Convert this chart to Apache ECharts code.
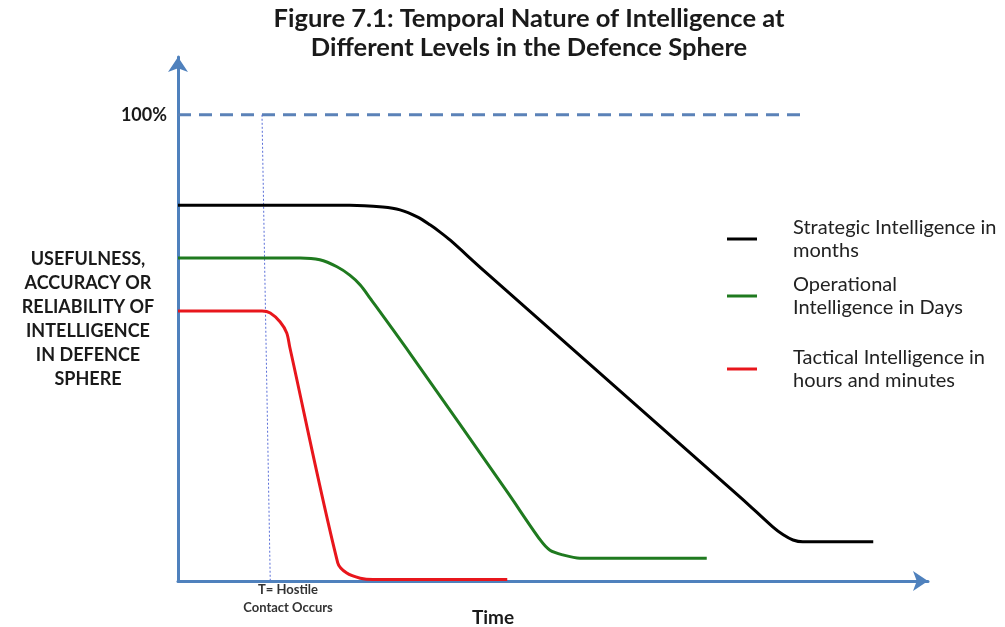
<!DOCTYPE html>
<html>
<head>
<meta charset="utf-8">
<script src="https://cdn.jsdelivr.net/npm/echarts@6/dist/echarts.min.js"></script>
<style>
  html, body { margin: 0; padding: 0; background: #ffffff; }
  #chart { width: 1005px; height: 627px; }
</style>
</head>
<body>
<div id="chart"></div>
<script>
// Usefulness (% of ideal) against elapsed time, one decay profile per level
const strategicCurve   = [[0, 80.6], [22.9, 80.6], [27.3, 80.2], [29.6, 79.6], [31.9, 78.1], [33.6, 76.4], [34.9, 74.9], [36.3, 73.1], [40.7, 66.7], [75.1, 17.8], [79.3, 11.6], [80.7, 9.9], [82.0, 8.8], [83.3, 8.4], [92.7, 8.4]];
const operationalCurve = [[0, 69.3], [16.3, 69.3], [18.9, 68.9], [21.2, 67.4], [22.9, 65.6], [24.3, 63.5], [25.6, 60.7], [30.9, 48.9], [43.9, 19.1], [48.3, 8.8], [49.6, 6.6], [51.3, 5.6], [53.6, 4.9], [70.5, 4.9]];
const tacticalCurve    = [[0, 57.9], [11.2, 57.9], [12.3, 57.5], [13.6, 55.6], [14.5, 53.2], [14.9, 50.2], [21.3, 3.9], [22.5, 1.7], [24.3, 0.6], [26.0, 0.3], [43.9, 0.3]];

// Full (100%) reference level and the moment hostile contact occurs
const fullLevel   = [[0, 100], [84.0, 100]];
const contactLine = [[11.2, 100], [12.3, 0]];

const seriesNames = ['Strategic Intelligence in months', 'Operational Intelligence in Days', 'Tactical Intelligence in hours and minutes'];
const legendLabels = ['Strategic Intelligence in\nmonths', 'Operational\nIntelligence in Days', 'Tactical Intelligence in\nhours and minutes'];
const seriesColors = ['#000000', '#1f7a1f', '#e8161c'];
const yTickLabels = { 100: '100%' };

const FONT = 'Lato, "Open Sans", sans-serif';
const AXIS_BLUE = '#4f81bd';

const chart = echarts.init(document.getElementById('chart'), null, { renderer: 'canvas' });

function legendAt(idx, top) {
  return {
    left: 722, top: top, orient: 'vertical',
    data: [seriesNames[idx]],
    icon: 'rect', itemWidth: 30, itemHeight: 3,
    selectedMode: false,
    formatter: () => legendLabels[idx],
    textStyle: { fontFamily: FONT, fontSize: 20, color: '#222', lineHeight: 23, padding: [0, 0, 0, 31] }
  };
}

function curve(idx, data) {
  return {
    name: seriesNames[idx], type: 'line', data: data,
    smooth: 0.3, showSymbol: false, symbol: 'none',
    color: seriesColors[idx],
    lineStyle: { color: seriesColors[idx], width: 3 },
    z: 5
  };
}

chart.setOption({
  animation: false,
  backgroundColor: '#ffffff',
  title: {
    text: 'Figure 7.1: Temporal Nature of Intelligence at\nDifferent Levels in the Defence Sphere',
    left: 524, top: -1, textAlign: 'center',
    textStyle: { fontFamily: FONT, fontSize: 25.5, fontWeight: 'bold', color: '#1a1a1a', lineHeight: 29 }
  },
  legend: [legendAt(0, 211), legendAt(1, 268), legendAt(2, 341)],
  grid: { left: 178, right: 77, top: 57, bottom: 46, outerBoundsMode: 'none', containLabel: false },
  xAxis: {
    type: 'value', min: 0, max: 100,
    name: 'Time', nameLocation: 'middle', nameGap: 27, nameMoveOverlap: false,
    nameTextStyle: { fontFamily: FONT, fontSize: 19, fontWeight: 'bold', color: '#1a1a1a', padding: [0, 120, 0, 0] },
    axisLine: { show: true, symbol: ['none', 'arrow'], symbolSize: [15, 15], lineStyle: { color: AXIS_BLUE, width: 3 } },
    axisTick: { show: false }, axisLabel: { show: false }, splitLine: { show: false }
  },
  yAxis: {
    type: 'value', min: 0, max: 112.4, interval: 100,
    name: 'USEFULNESS,\nACCURACY OR\nRELIABILITY OF\nINTELLIGENCE\nIN DEFENCE\nSPHERE',
    nameLocation: 'middle', nameGap: 90, nameRotate: 0, nameMoveOverlap: false,
    nameTextStyle: { fontFamily: FONT, fontSize: 18, fontWeight: 'bold', color: '#1a1a1a', lineHeight: 24, align: 'center', verticalAlign: 'middle' },
    axisLine: { show: true, symbol: ['none', 'arrow'], symbolSize: [15, 15], lineStyle: { color: AXIS_BLUE, width: 3 } },
    axisTick: { show: false },
    axisLabel: {
      margin: 11, fontFamily: FONT, fontSize: 18, fontWeight: 'bold', color: '#1a1a1a',
      formatter: v => yTickLabels[v] || ''
    },
    splitLine: { show: false }
  },
  graphic: [{
    type: 'text', x: 288, y: 581,
    style: {
      text: 'T= Hostile\nContact Occurs', align: 'center', verticalAlign: 'top',
      font: 'bold 13px ' + FONT, fill: '#333', lineHeight: 18
    }
  }],
  series: [
    {
      name: 'full', type: 'line', data: fullLevel, showSymbol: false, symbol: 'none',
      lineStyle: { color: '#5b82b8', width: 3, type: [13, 8] }, z: 2
    },
    {
      name: 'contact', type: 'line', data: contactLine, showSymbol: false, symbol: 'none',
      lineStyle: { color: '#5a6fd8', width: 1, type: [2, 2] }, z: 2
    },
    curve(0, strategicCurve),
    curve(1, operationalCurve),
    curve(2, tacticalCurve)
  ]
});
</script>
</body>
</html>
